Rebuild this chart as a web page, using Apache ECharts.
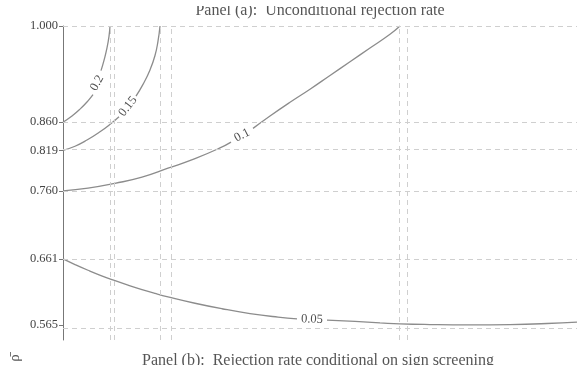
<!DOCTYPE html>
<html>
<head>
<meta charset="utf-8">
<script src="https://cdn.jsdelivr.net/npm/echarts@6/dist/echarts.min.js"></script>
<style>html,body{margin:0;padding:0;background:#fff}#c{width:577px;height:365px}</style>
</head>
<body>
<div id="c"></div>
<script>
// y tick labels (rho-bar values)
const yTicks = [1.000, 0.860, 0.819, 0.760, 0.661, 0.565];
// vertical reference lines (x positions in axis units)
const vLines = [47, 51, 97, 108, 336, 344];

// contour 0.2
const c20x = [0, 9, 17, 25, 30, null, 38, 41, 44, 46, 47];
const c20y = [0.860, 0.869, 0.879, 0.891, 0.900, null, 0.935, 0.950, 0.968, 0.985, 1.000];
// contour 0.15
const c15x = [0, 12, 24, 37, 48, 56, null, 73, 80, 87, 92, 95, 97];
const c15y = [0.819, 0.825, 0.834, 0.846, 0.858, 0.868, null, 0.898, 0.915, 0.936, 0.957, 0.978, 1.000];
// contour 0.1
const c10x = [0, 25, 52, 79, 105, 132, 157, 168, null, 190, 207, 227, 247, 267, 287, 307, 327, 337];
const c10y = [0.760, 0.764, 0.771, 0.780, 0.793, 0.807, 0.8225, 0.831, null, 0.851, 0.869, 0.889, 0.908, 0.928, 0.948, 0.968, 0.988, 1.000];
// contour 0.05
const c05x = [0, 12, 25, 38, 52, 65, 79, 92, 105, 132, 159, 187, 215, 234, null, 264, 292, 317, 337, 367, 407, 447, 484, 514];
const c05y = [0.661, 0.6528, 0.6445, 0.6368, 0.6293, 0.6228, 0.6163, 0.6108, 0.6058, 0.5965, 0.5885, 0.5815, 0.5763, 0.5738, null, 0.572, 0.570, 0.568, 0.5665, 0.5655, 0.565, 0.5655, 0.567, 0.569];

// contour labels: text, x, y, rotation
const labText = ['0.2', '0.15', '0.1', '0.05'];
const labX = [34, 65, 179, 249];
const labY = [0.917, 0.883, 0.841, 0.573];
const labRot = [62, 52, 27, -2];

const titleA = 'Panel (a):  Unconditional rejection rate';
const titleB = 'Panel (b):  Rejection rate conditional on sign screening';
const yName = 'ρ̄';

const SERIF = '"Liberation Serif", "DejaVu Serif", serif';
const zip = (xs, ys) => xs.map((x, i) => (x === null ? [null, null] : [x, ys[i]]));

const lineStyle = { color: '#8c8c8c', width: 1.3 };
const contour = (xs, ys) => ({
  type: 'line', data: zip(xs, ys), smooth: 0.5, showSymbol: false,
  connectNulls: false, lineStyle: lineStyle, silent: true, z: 3
});

const chart = echarts.init(document.getElementById('c'), null, { renderer: 'canvas' });
chart.setOption({
  animation: false,
  backgroundColor: '#fff',
  grid: { left: 63, right: 0, top: 26, bottom: 25, containLabel: false },
  xAxis: { type: 'value', min: 0, max: 514, show: false },
  yAxis: {
    type: 'value', min: 0.543, max: 1.0,
    axisLine: { show: true, lineStyle: { color: '#777', width: 1 } },
    axisTick: { show: true, customValues: yTicks, length: 4, lineStyle: { color: '#777' } },
    axisLabel: {
      customValues: yTicks, formatter: v => v.toFixed(3),
      fontFamily: SERIF, fontSize: 12.5, color: '#444', margin: 5
    },
    splitLine: { show: false }
  },
  series: [
    {
      type: 'line', data: [], silent: true,
      markLine: {
        symbol: ['none', 'none'], silent: true, animation: false,
        label: { show: false },
        lineStyle: { type: [5, 4], color: '#cfcfcf', width: 1 },
        data: yTicks.map(v => ({ yAxis: v })).concat(vLines.map(v => ({ xAxis: v })))
      }
    },
    contour(c20x, c20y),
    contour(c15x, c15y),
    contour(c10x, c10y),
    contour(c05x, c05y),
    {
      type: 'scatter', symbolSize: 0, silent: true, z: 4,
      data: labText.map((t, i) => ({
        name: t, value: [labX[i], labY[i]],
        label: { rotate: labRot[i] }
      })),
      label: {
        show: true, position: 'inside', formatter: p => p.name,
        fontFamily: SERIF, fontSize: 12.5, color: '#222'
      }
    }
  ],
  graphic: [
    { type: 'text', z: 10, style: { text: titleA, x: 320, y: 3, align: 'center', verticalAlign: 'top', font: '16px ' + SERIF, fill: '#555' } },
    { type: 'rect', z: 11, shape: { x: 0, y: 0, width: 577, height: 6 }, style: { fill: '#fff' } },
    { type: 'text', z: 10, style: { text: titleB, x: 318, y: 353, align: 'center', verticalAlign: 'top', font: '16px ' + SERIF, fill: '#555' } },
    { type: 'text', z: 10, rotation: Math.PI / 2, x: 15, y: 358, style: { text: yName, align: 'center', verticalAlign: 'middle', font: '15px ' + SERIF, fill: '#555' } }
  ]
});
</script>
</body>
</html>
